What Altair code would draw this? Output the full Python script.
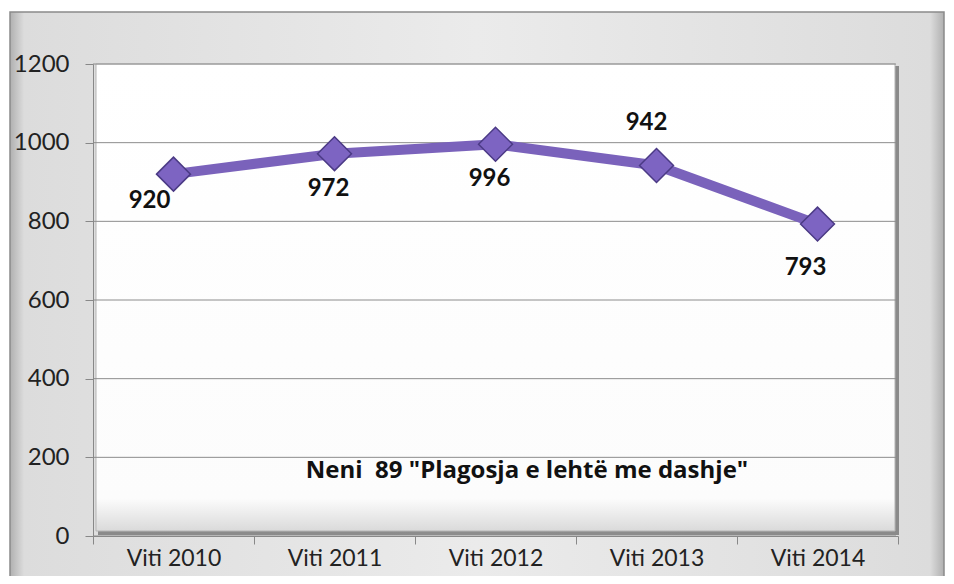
import altair as alt
import pandas as pd

years = ["Viti 2010", "Viti 2011", "Viti 2012", "Viti 2013", "Viti 2014"]
values = [920, 972, 996, 942, 793]
y_ticks = [0, 200, 400, 600, 800, 1000, 1200]
title_text = ['Neni\u00a0 89 "Plagosja e lehtë me dashje"']

W, H = 805, 472
PL, PT, PR, PB = 85, 56, 48, 40
FONT = "Lato"

df = pd.DataFrame({"year": years, "value": values})
grid_df = pd.DataFrame({"v": y_ticks})
title_df = pd.DataFrame({"t": title_text})

x_enc = alt.X("year:N", sort=years, title=None,
              scale=alt.Scale(paddingInner=0, paddingOuter=0),
              axis=alt.Axis(tickBand="extent", labelFont=FONT, labelFontSize=23,
                            labelColor="#222", labelPadding=3, tickSize=8,
                            domainColor="#888", tickColor="#888", labelAngle=0,
                            zindex=1))
y_enc = alt.Y("value:Q", title=None,
              scale=alt.Scale(domain=[0, 1200]),
              axis=alt.Axis(values=y_ticks, grid=False, format="d", labelFont=FONT,
                            labelFontSize=24, labelColor="#222", tickSize=8,
                            labelPadding=16, domainColor="#888", tickColor="#888",
                            zindex=1))

frame_grad = alt.Gradient(gradient="linear", x1=0, x2=1, y1=0, y2=0, stops=[
    alt.GradientStop(offset=0, color="#b0b0b0"),
    alt.GradientStop(offset=0.015, color="#dcdcdc"),
    alt.GradientStop(offset=0.5, color="#ebebeb"),
    alt.GradientStop(offset=0.985, color="#dcdcdc"),
    alt.GradientStop(offset=1, color="#b0b0b0"),
])
plot_grad = alt.Gradient(gradient="linear", x1=0, x2=0, y1=0, y2=1, stops=[
    alt.GradientStop(offset=0, color="#ffffff"),
    alt.GradientStop(offset=0.93, color="#fcfcfc"),
    alt.GradientStop(offset=1, color="#dadada"),
])

base = alt.Chart(df)

frame = alt.Chart(title_df).mark_rect(fill=frame_grad, stroke="#8a8a8a", strokeWidth=1.5).encode(
    x=alt.value(-PL + 2), x2=alt.value(W + PR - 2),
    y=alt.value(-PT + 4), y2=alt.value(H + PB + 10))
shadow = alt.Chart(title_df).mark_rect(fill="#6e6e6e", opacity=0.75).encode(
    x=alt.value(5), x2=alt.value(W + 1), y=alt.value(2), y2=alt.value(H - 1))
plot_bg = alt.Chart(title_df).mark_rect(fill=plot_grad, stroke="#b5b5b5", strokeWidth=1).encode(
    x=alt.value(3), x2=alt.value(W - 3), y=alt.value(0), y2=alt.value(H - 5))

grid = alt.Chart(grid_df).mark_rule(color="#8c8c8c", strokeWidth=1).encode(
    y=alt.Y("v:Q", scale=alt.Scale(domain=[0, 1200])),
    x=alt.value(0), x2=alt.value(W - 2))

line = base.mark_line(color="#7a62bb", strokeWidth=10).encode(x=x_enc, y=y_enc)
pts = base.mark_point(shape="diamond", size=1150, filled=True, fill="#7d64c2",
                      stroke="#4b3a85", strokeWidth=1.5, opacity=1).encode(x=x_enc, y=y_enc)

lab_style = dict(font=FONT, fontSize=24, fontWeight="bold", color="#111")
lab_first = base.transform_filter(alt.datum.year == years[0]).mark_text(
    dx=-24, dy=27, **lab_style).encode(x=x_enc, y=y_enc, text="value:Q")
lab_below = base.transform_filter(
    (alt.datum.year == years[1]) | (alt.datum.year == years[2])).mark_text(
    dx=-6, dy=35, **lab_style).encode(x=x_enc, y=y_enc, text="value:Q")
lab_above = base.transform_filter(alt.datum.year == years[3]).mark_text(
    dx=-10, dy=-42, **lab_style).encode(x=x_enc, y=y_enc, text="value:Q")
lab_last = base.transform_filter(alt.datum.year == years[4]).mark_text(
    dx=-12, dy=44, **lab_style).encode(x=x_enc, y=y_enc, text="value:Q")

title = alt.Chart(title_df).mark_text(font="Open Sans", fontSize=24, fontWeight="bold",
                                      color="#111").encode(
    x=alt.value(434), y=alt.value(407), text="t:N")

chart = alt.layer(frame, shadow, plot_bg, grid, line, pts, lab_first, lab_below,
                  lab_above, lab_last, title).properties(
    width=W, height=H,
    autosize=alt.AutoSizeParams(type="none"),
    padding={"left": PL, "top": PT, "right": PR, "bottom": PB},
).configure_view(stroke=None).configure(background="white")

chart.save("out.html", embed_options={"renderer": "svg", "actions": False})
